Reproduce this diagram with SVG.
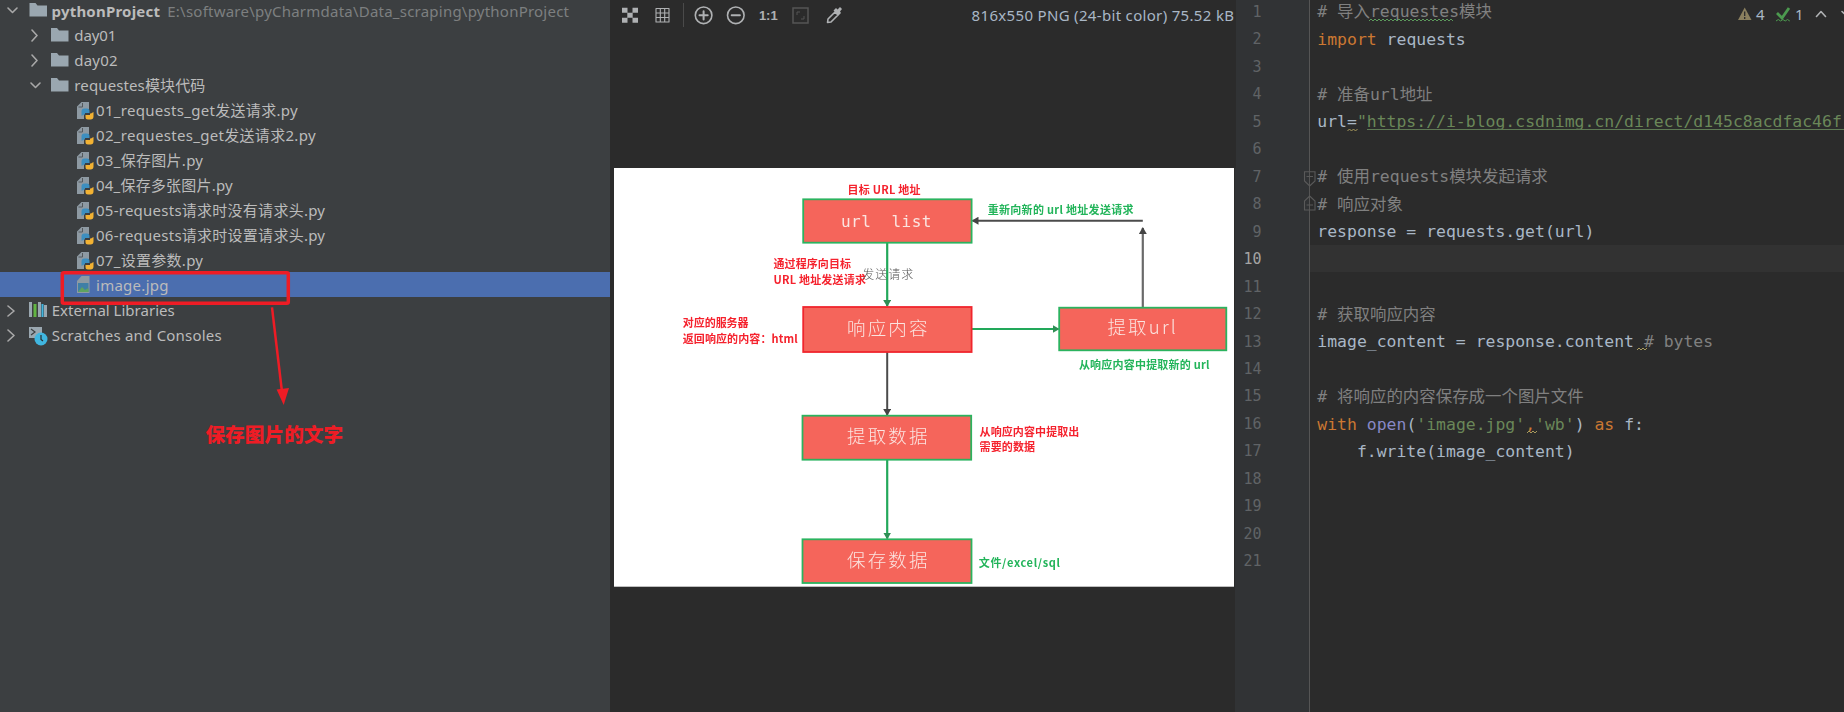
<svg xmlns="http://www.w3.org/2000/svg" width="1844" height="712" viewBox="0 0 1844 712">
<style>
.t{font-family:"Noto Sans","Noto Sans CJK SC",sans-serif;font-size:15px;fill:#bbb}
.b{font-weight:700}
.p{fill:#7d7f80}
.c{fill:none;stroke:#afb1b3;stroke-width:1.6;stroke-linecap:round;stroke-linejoin:round}
.lab{font-family:"Noto Sans CJK SC","Liberation Sans",sans-serif;font-size:11px;font-weight:700;filter:url(#soft)}
.r{fill:#f5222d}
.g{fill:#22b45a}
.n{fill:#f5655b;stroke-width:1.8}
.sg{stroke:#2bb35f}
.sr{stroke:#f0252d}
.nt{font-family:"Noto Sans CJK SC","DejaVu Sans Mono",sans-serif;font-size:18.5px;font-weight:300;fill:#fbe4e0;filter:url(#soft)}
.m{font-family:"DejaVu Sans Mono","Noto Sans CJK SC",monospace;font-size:16.45px;fill:#a9b7c6;white-space:pre}
.cm{fill:#808080}.kw{fill:#cc7832}.st{fill:#6a8759}.bi{fill:#8888c6}
.ln{font-family:"DejaVu Sans Mono",monospace;font-size:15px;fill:#606366;text-anchor:end}
.wave{fill:none;stroke-width:1}
.cg{stroke:#22a85a;stroke-width:2.2;fill:none}
.cd{stroke:#4b4b4b;stroke-width:2;fill:none}
.cv{stroke:#6a6a6a;stroke-width:2.2;fill:none}
</style>
<defs>
<filter id="soft" x="-5%" y="-20%" width="110%" height="140%"><feGaussianBlur stdDeviation="0.35"/></filter>
<marker id="ag" markerWidth="7" markerHeight="8" refX="6" refY="4" orient="auto" markerUnits="userSpaceOnUse"><path d="M0 0L7 4L0 8Z" fill="#2f8f55"/></marker>
<marker id="ad" markerWidth="7" markerHeight="8" refX="6" refY="4" orient="auto" markerUnits="userSpaceOnUse"><path d="M0 0L7 4L0 8Z" fill="#444"/></marker>
<g id="folder"><path d="M0 0H6L8 2.5H17.5V13.5H0Z" fill="#9aa7b0"/></g>
<g id="py"><path d="M1 5.5L5.5 1H13V8H8V18H1Z" fill="#8e9aa3"/><path d="M2.5 6H6.5V2" fill="none" stroke="#55595c"/><path d="M5.500 14.500V10.500Q5.500 7.500 8.500 7.500H11Q13.500 7.500 13.500 10V12H9V13.500H8Q6 15 5.500 14.500Z" fill="#3d8fc0"/><path d="M17.500 11V15.500Q17.500 18.500 14.500 18.500H12Q9.500 18.500 9.500 16V14H14V12.500H15Q17 11 17.500 11Z" fill="#f2b233"/></g>
</defs>
<rect width="1844" height="712" fill="#2b2b2b"/>
<g id="project-panel">
<rect width="610" height="712" fill="#3c3f41"/>
<rect y="272" width="610" height="25" fill="#4b6eaf"/>
<path class="c" d="M8 8L12.500 12.500L17 8M32 30L37 35.500L32 41M32 55L37 60.500L32 66M31 83L35.500 87.500L40 83M8 306L14 311L8 316M8 330L14 335.500L8 341" style="stroke:#a8a8a8"/>
<use href="#folder" x="29.500" y="3"/><use href="#folder" x="51" y="28"/><use href="#folder" x="51" y="53"/><use href="#folder" x="51" y="78"/>
<use href="#py" x="76" y="101"/><use href="#py" x="76" y="126"/><use href="#py" x="76" y="151"/><use href="#py" x="76" y="176"/><use href="#py" x="76" y="201"/><use href="#py" x="76" y="226"/><use href="#py" x="76" y="251"/>
<path d="M77 281L81.500 276H89.500V293H77Z" fill="#8e9aa3"/><rect x="78" y="283" width="10.500" height="9" fill="#3f7fa6"/><path d="M78 292L82 287L85 290L88.500 288V292Z" fill="#5fa35f"/>
<path d="M29 302h3v15h-3zM38 302h3v15h-3zM44 305h3v12h-3z" fill="#9aa7b0"/><path d="M33.500 304h3v13h-3z" fill="#62b543"/><path d="M41.500 304h2v13h-2z" fill="#40b6e0"/>
<rect x="29" y="327" width="13" height="11" fill="#9aa7b0"/><path d="M31 329L35 332L31 335" fill="none" stroke="#3c3f41" stroke-width="1.200"/><circle cx="41" cy="339" r="6.500" fill="#40b6e0"/><path d="M41 335V339.500L43 341" fill="none" stroke="#2b2b2b" stroke-width="1.200"/>
<text class="t b" x="51.500" y="16.500" textLength="108.500">pythonProject</text>
<text class="t p" x="167.300" y="16.500" textLength="401.700">E:\software\pyCharmdata\Data_scraping\pythonProject</text>
<text class="t" x="74.300" y="41" textLength="42">day01</text>
<text class="t" x="74.300" y="66" textLength="43.200">day02</text>
<text class="t" x="74.300" y="91" textLength="131">requestes模块代码</text>
<text class="t" x="96" y="116" textLength="201.700">01_requests_get发送请求.py</text>
<text class="t" x="96" y="141" textLength="219.600">02_requestes_get发送请求2.py</text>
<text class="t" x="96" y="166" textLength="107">03_保存图片.py</text>
<text class="t" x="96" y="191" textLength="136.700">04_保存多张图片.py</text>
<text class="t" x="96" y="216" textLength="229">05-requests请求时没有请求头.py</text>
<text class="t" x="96" y="241" textLength="229">06-requests请求时设置请求头.py</text>
<text class="t" x="96" y="266" textLength="107">07_设置参数.py</text>
<text class="t" x="96" y="291" textLength="72.500">image.jpg</text>
<text class="t" x="51.700" y="316" textLength="123">External Libraries</text>
<text class="t" x="51.700" y="341" textLength="170">Scratches and Consoles</text>
<rect x="62.300" y="272.700" width="226" height="30.600" rx="1.500" fill="none" stroke="#ee1c25" stroke-width="3.500"/>
<path d="M272 307.300L282 392" fill="none" stroke="#ee1c25" stroke-width="2.500"/>
<path d="M283.700 405L276.600 389.500L289 388Z" fill="#ee1c25"/>
<text x="205.400" y="442" font-family="&quot;Noto Sans CJK SC&quot;,sans-serif" font-size="19.700" font-weight="900" fill="#ee1c25">保存图片的文字</text>
</g>
<g id="image-toolbar">
<path d="M622 7.700h5.500v5h-5.500zM632.500 7.700h5.500v5h-5.500zM627.300 12.700h5.400v5h-5.400zM622 17.700h5.500v5h-5.500zM632.500 17.700h5.500v5h-5.500z" fill="#afb1b3"/>
<path class="c" style="stroke-width:1.100" d="M656 8.500H669V22H656ZM656 13H669M656 17.500H669M660.300 8.500V22M664.700 8.500V22"/>
<path d="M683.500 3V27" stroke="#4a4a4a"/>
<circle class="c" cx="703.600" cy="15.300" r="8.300"/><path class="c" style="stroke-width:2" d="M699.500 15.300H707.700M703.600 11.200V19.400"/>
<circle class="c" cx="735.800" cy="15.300" r="8.300"/><path class="c" style="stroke-width:2" d="M731.700 15.300H739.900"/>
<text x="768.300" y="20" font-family="&quot;Liberation Sans&quot;,sans-serif" font-size="13" font-weight="700" fill="#afb1b3" text-anchor="middle">1:1</text>
<path d="M793 8H808V23H793Z" fill="none" stroke="#555" stroke-width="1.500"/><path d="M797 15V12H800M804 16V19H801" fill="none" stroke="#555"/>
<path class="c" d="M827.500 22.500L828 19L835 12L838 15L831 22Z"/><path d="M833.500 10.500L836 8L837.500 9.500L840 7L842 9L840 11.500L841 13L838.500 15.500Z" fill="#afb1b3"/>
<text x="971.600" y="20.700" font-family="&quot;Noto Sans&quot;,sans-serif" font-size="15" fill="#a9b7c6" textLength="262.400">816x550 PNG (24-bit color) 75.52 kB</text>
</g>
<rect id="image-canvas" x="614" y="168" width="620" height="418.700" fill="#fff"/>
<g id="connectors">
<path class="cg" d="M887.200 242.700V306" marker-end="url(#ag)"/>
<path class="cg" d="M971.600 329H1058.500" marker-end="url(#ag)"/>
<path class="cv" d="M1142.800 307.700V228" marker-end="url(#ad)"/>
<path class="cd" d="M1142.800 220.700H972.500" marker-end="url(#ad)"/>
<path class="cd" d="M887.200 352V415" marker-end="url(#ad)"/>
<path class="cg" d="M887.200 459.700V538.500" marker-end="url(#ag)"/>
</g>
<g id="node-url-list"><rect class="n sg" x="803.200" y="199.300" width="168.400" height="43.400"/><text class="nt" x="841" y="226.700" textLength="90.400" style="font-family:'DejaVu Sans Mono',sans-serif;font-size:16px;white-space:pre">url  list</text></g>
<g id="node-response"><rect class="n sr" x="803.200" y="307" width="168.400" height="45"/><text class="nt" x="847" y="334.500" textLength="80.400">响应内容</text></g>
<g id="node-extract-url"><rect class="n sg" x="1059.200" y="307.700" width="167.100" height="42.600"/><text class="nt" x="1107.400" y="334" textLength="68.300">提取url</text></g>
<g id="node-extract-data"><rect class="n sg" x="802.500" y="415.700" width="168.700" height="44"/><text class="nt" x="847" y="442.500" textLength="80.400">提取数据</text></g>
<g id="node-save-data"><rect class="n sg" x="802.500" y="539.300" width="169" height="43.700"/><text class="nt" x="847" y="566.500" textLength="80.400">保存数据</text></g>
<g id="diagram-labels">
<text class="lab r" x="847.400" y="194" textLength="73.200">目标 URL 地址</text>
<text class="lab g" x="987.700" y="214" textLength="145.800">重新向新的 url 地址发送请求</text>
<text class="lab r" x="773.500" y="267.700" textLength="77.500">通过程序向目标</text>
<text class="lab r" x="773.500" y="283.500" textLength="92.500">URL 地址发送请求</text>
<text x="862.300" y="278.500" font-family="&quot;Noto Sans CJK SC&quot;,sans-serif" font-size="12" font-weight="300" letter-spacing="1" fill="#555" filter="url(#soft)">发送请求</text>
<text class="lab r" x="682.700" y="327" textLength="65.900">对应的服务器</text>
<text class="lab r" x="682.700" y="343" textLength="114.900">返回响应的内容：html</text>
<text class="lab g" x="1078.900" y="369" textLength="130.500">从响应内容中提取新的 url</text>
<text class="lab r" x="979.600" y="435.700" textLength="99.700">从响应内容中提取出</text>
<text class="lab r" x="979.600" y="451.300" textLength="55.400">需要的数据</text>
<text class="lab g" x="978.800" y="567" textLength="81.200">文件/excel/sql</text>
</g>
<g id="editor">
<rect x="1235" y="0" width="74.500" height="712" fill="#313335"/>
<rect x="1235" width="1" height="168" fill="#2b2b2b"/>
<path d="M1309.500 0V712" stroke="#555"/>
<rect x="1310" y="245" width="534" height="27" fill="#323232"/>
<g>
<text class="ln" x="1261.500" y="16.700">1</text><text class="ln" x="1261.500" y="44.200">2</text><text class="ln" x="1261.500" y="71.700">3</text><text class="ln" x="1261.500" y="99.100">4</text><text class="ln" x="1261.500" y="126.600">5</text><text class="ln" x="1261.500" y="154.100">6</text><text class="ln" x="1261.500" y="181.600">7</text><text class="ln" x="1261.500" y="209.100">8</text><text class="ln" x="1261.500" y="236.500">9</text><text class="ln" x="1261.500" y="264" style="fill:#a4a3a3">10</text><text class="ln" x="1261.500" y="291.500">11</text><text class="ln" x="1261.500" y="319">12</text><text class="ln" x="1261.500" y="346.500">13</text><text class="ln" x="1261.500" y="373.900">14</text><text class="ln" x="1261.500" y="401.400">15</text><text class="ln" x="1261.500" y="428.900">16</text><text class="ln" x="1261.500" y="456.400">17</text><text class="ln" x="1261.500" y="483.900">18</text><text class="ln" x="1261.500" y="511.300">19</text><text class="ln" x="1261.500" y="538.800">20</text><text class="ln" x="1261.500" y="566.300">21</text>
</g>
<path d="M1304.500 171.700H1315V181L1309.700 186L1304.500 181ZM1306.500 176.500H1313M1304.500 210H1315V201L1309.700 196L1304.500 201ZM1306.500 205H1313" fill="none" stroke="#5a5a5a" stroke-width="1.100"/>
<text class="m cm" x="1317.300" y="17"># 导入requestes模块</text>
<text class="m" x="1317.300" y="44.500"><tspan class="kw">import</tspan> requests</text>
<text class="m cm" x="1317.300" y="99.500"># 准备url地址</text>
<text class="m" x="1317.300" y="127">url=<tspan class="st">"https://i-blog.csdnimg.cn/direct/d145c8acdfac46f</tspan></text>
<text class="m cm" x="1317.300" y="182"># 使用requests模块发起请求</text>
<text class="m cm" x="1317.300" y="209.500"># 响应对象</text>
<text class="m" x="1317.300" y="237">response = requests.get(url)</text>
<text class="m cm" x="1317.300" y="319.500"># 获取响应内容</text>
<text class="m" x="1317.300" y="347">image_content = response.content <tspan class="cm"># bytes</tspan></text>
<text class="m cm" x="1317.300" y="402"># 将响应的内容保存成一个图片文件</text>
<text class="m" x="1317.300" y="429.500"><tspan class="kw">with</tspan> <tspan class="bi">open</tspan>(<tspan class="st">'image.jpg'</tspan><tspan class="kw">,</tspan><tspan class="st">'wb'</tspan>) <tspan class="kw">as</tspan> f:</text>
<text class="m" x="1317.300" y="457">    f.write(image_content)</text>
<path d="M1367 129.500H1844" stroke="#5f7a55"/>
<path class="wave" stroke="#5c9a5c" d="M1369 21l2-2 2 2 2-2 2 2 2-2 2 2 2-2 2 2 2-2 2 2 2-2 2 2 2-2 2 2 2-2 2 2 2-2 2 2 2-2 2 2 2-2 2 2 2-2 2 2 2-2 2 2 2-2 2 2 2-2 2 2 2-2 2 2 2-2 2 2 2-2 2 2 2-2 2 2 2-2 2 2 2-2 2 2"/>
<path class="wave" stroke="#a89a5c" d="M1347.500 131l2-2 2 2 2-2 2 2 2-2M1637 350l2-2 2 2 2-2 2 2 2-2M1527 433l2-2 2 2 2-2 2 2 2-2"/>
<path d="M1738 20L1744.700 7.500L1751.500 20Z" fill="#8a7f5e"/><path d="M1744.700 11.500V16M1744.700 17V19" stroke="#2b2b2b" stroke-width="1.300"/>
<text x="1756" y="20" font-family="&quot;Noto Sans&quot;,sans-serif" font-size="15" fill="#a9b7c6">4</text>
<path d="M1777 13L1782 18L1789 8" fill="none" stroke="#4c9a4f" stroke-width="2.800"/><path d="M1776 21l2.300-1.500 2.300 1.500 2.300-1.500 2.300 1.500 2.300-1.500 2.300 1.500" fill="none" stroke="#4c9a4f"/>
<text x="1795" y="20" font-family="&quot;Noto Sans&quot;,sans-serif" font-size="15" fill="#a9b7c6">1</text>
<path class="c" d="M1816.500 16.500L1821 11.500L1825.500 16.500M1842 11.500L1844 13.500"/>
</g>
</svg>
